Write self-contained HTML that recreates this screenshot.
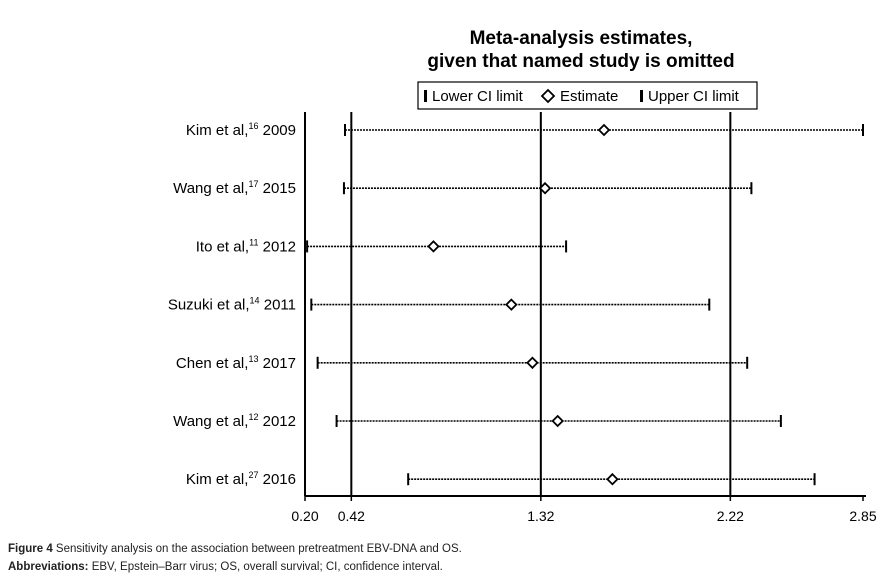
<!DOCTYPE html>
<html><head><meta charset="utf-8"><style>
body{margin:0;background:#fff;width:885px;height:578px;overflow:hidden;font-family:"Liberation Sans",sans-serif}
.cap{position:absolute;left:8px;font-size:11.5px;color:#222}
</style></head><body>
<svg width="885" height="540" style="position:absolute;left:0;top:0" font-family="Liberation Sans, sans-serif">
<text x="581" y="44" text-anchor="middle" font-size="19" font-weight="bold">Meta-analysis estimates,</text>
<text x="581" y="67" text-anchor="middle" font-size="19" font-weight="bold">given that named study is omitted</text>
<g>
<rect x="418" y="82" width="339" height="27" fill="#fff" stroke="#000" stroke-width="1.2"/>
<rect x="424" y="90" width="3" height="12" fill="#000"/>
<text x="432" y="101" font-size="15">Lower CI limit</text>
<path d="M548 90 L554 96 L548 102 L542 96 Z" fill="#fff" stroke="#000" stroke-width="1.8"/>
<text x="560" y="101" font-size="15">Estimate</text>
<rect x="640" y="90" width="3" height="12" fill="#000"/>
<text x="648" y="101" font-size="15">Upper CI limit</text>
</g>
<g id="plot"></g>
</svg>
<div class="cap" style="top:543px"><b>Figure 4</b> Sensitivity analysis on the association between pretreatment EBV-DNA and OS.</div>
<div class="cap" style="top:561px"><b>Abbreviations:</b> EBV, Epstein–Barr virus; OS, overall survival; CI, confidence interval.</div>
<script>
const studies=["Kim et al,|16| 2009","Wang et al,|17| 2015","Ito et al,|11| 2012","Suzuki et al,|14| 2011","Chen et al,|13| 2017","Wang et al,|12| 2012","Kim et al,|27| 2016"];
const lower=[0.39,0.385,0.21,0.23,0.26,0.35,0.69];
const estimate=[1.62,1.34,0.81,1.18,1.28,1.40,1.66];
const upper=[2.85,2.32,1.44,2.12,2.30,2.46,2.62];
const ticks=[0.20,0.42,1.32,2.22,2.85];
const refLines=[0.42,1.32,2.22];
const NS="http://www.w3.org/2000/svg";
const g=document.getElementById('plot');
const x=v=>305+(v-0.20)/(2.85-0.20)*558;
const y=i=>130+i*58.2;
const base=496;
function mk(t,a){const e=document.createElementNS(NS,t);for(const k in a)e.setAttribute(k,a[k]);g.appendChild(e);return e;}
let e;
e=mk('line',{x1:305,y1:base,x2:866,y2:base,stroke:'#000','stroke-width':2});


e=mk('line',{x1:305,y1:112,x2:305,y2:base,stroke:'#000','stroke-width':2});


refLines.forEach(v=>{e=mk('line',{x1:x(v),y1:112,x2:x(v),y2:base,stroke:'#000','stroke-width':2});

});
ticks.forEach(v=>{mk('line',{x1:x(v),y1:base,x2:x(v),y2:base+5,stroke:'#000','stroke-width':1.5});
e=mk('text',{x:x(v),y:base+25,'text-anchor':'middle','font-size':14});e.textContent=v.toFixed(2);

});
studies.forEach((s,i)=>{const yy=y(i);const p=s.split('|');
e=mk('text',{x:296,y:yy+5,'text-anchor':'end','font-size':15});


const t1=document.createElementNS(NS,'tspan');t1.textContent=p[0];e.appendChild(t1);
const t2=document.createElementNS(NS,'tspan');t2.setAttribute('font-size','9');t2.setAttribute('dy','-6');t2.textContent=p[1];e.appendChild(t2);
const t3=document.createElementNS(NS,'tspan');t3.setAttribute('dy','6');t3.textContent=' '+p[2].trim();e.appendChild(t3);
e=mk('line',{x1:x(lower[i]),y1:yy,x2:x(upper[i]),y2:yy,stroke:'#000','stroke-width':1.6,'stroke-dasharray':'2 1'});


e=mk('line',{x1:x(lower[i]),y1:yy-6,x2:x(lower[i]),y2:yy+6,stroke:'#000','stroke-width':2});


e=mk('line',{x1:x(upper[i]),y1:yy-6,x2:x(upper[i]),y2:yy+6,stroke:'#000','stroke-width':2});


const cx=x(estimate[i]);
e=mk('path',{d:`M${cx} ${yy-5} L${cx+5} ${yy} L${cx} ${yy+5} L${cx-5} ${yy} Z`,fill:'#fff',stroke:'#000','stroke-width':1.8});


});
</script>
</body></html>
